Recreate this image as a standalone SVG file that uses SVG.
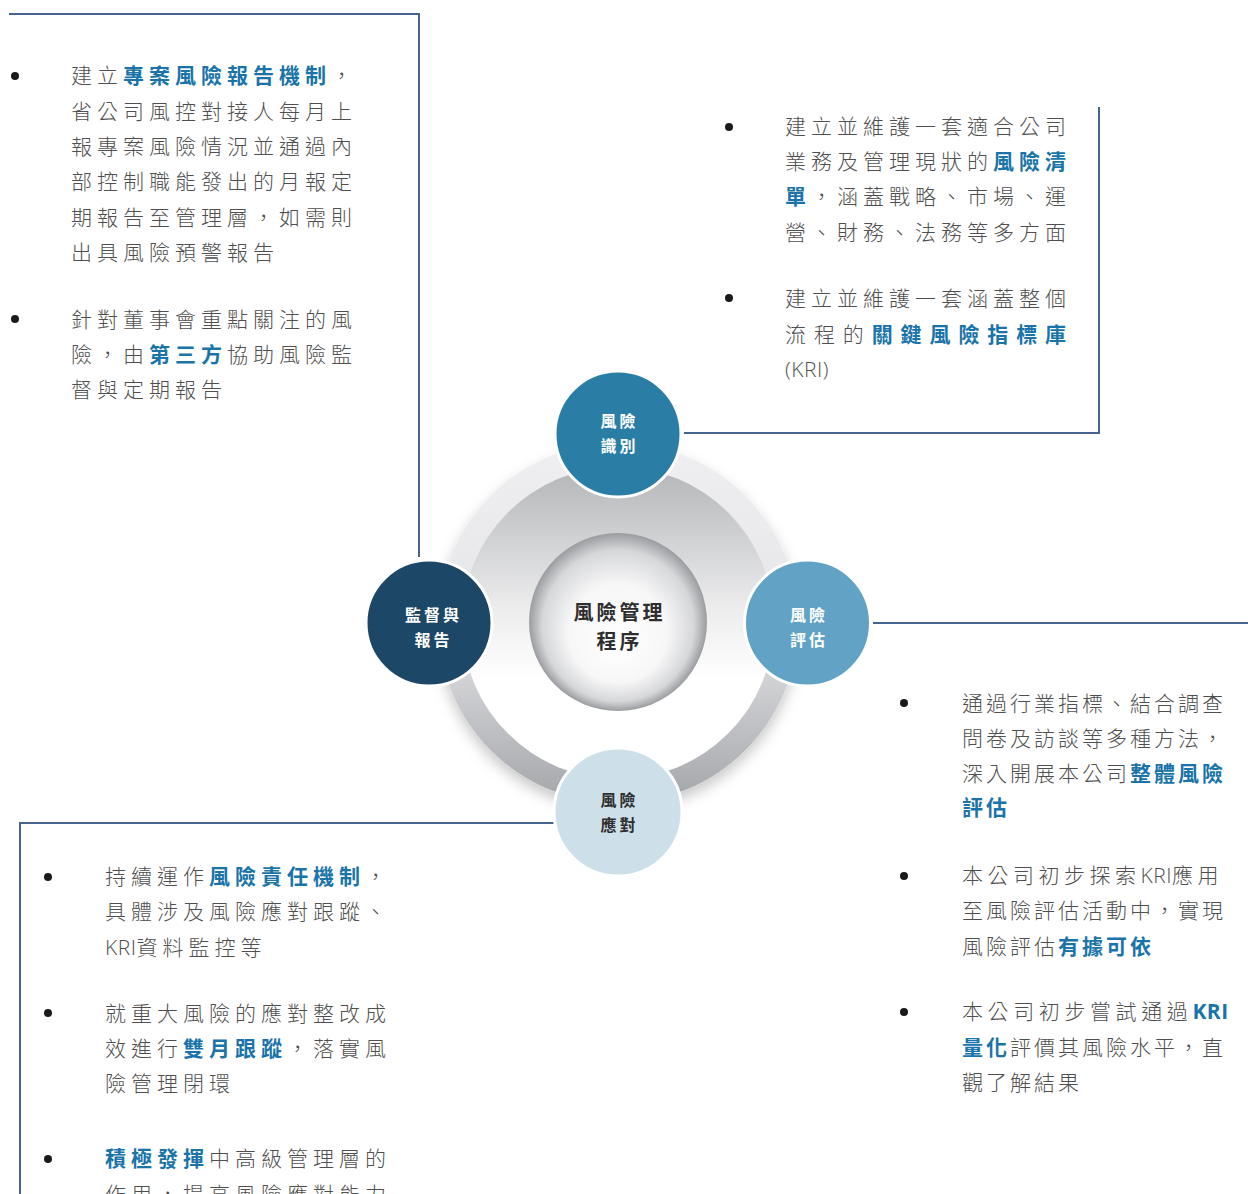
<svg xmlns="http://www.w3.org/2000/svg" width="1248" height="1194" viewBox="0 0 1248 1194">
  <style>
    .body{font-family:"Open Sans","Noto Sans CJK TC",sans-serif;font-size:21px;font-weight:300;fill:#4f4f4f;letter-spacing:5px}
    .r{letter-spacing:3px}
    .hl{fill:#1a74a9;font-weight:700}
    .lat{letter-spacing:0.5px}
    .lab{font-family:"Noto Sans CJK TC",sans-serif;font-size:16px;font-weight:700;letter-spacing:3px;text-anchor:middle}
    .core{font-family:"Noto Sans CJK TC",sans-serif;font-size:20px;font-weight:700;letter-spacing:3px;text-anchor:middle;fill:#2e2e2e}
    .frame{fill:none;stroke:#44648f;stroke-width:2}
    .dot{fill:#1a1a1a}
    .node{stroke:#ffffff;stroke-width:3}
  </style>
  <defs>
    <linearGradient id="ringOuter" x1="0" y1="0" x2="0" y2="1">
      <stop offset="0" stop-color="#efeff1"/>
      <stop offset="0.5" stop-color="#e6e6e8"/>
      <stop offset="1" stop-color="#a3a5a9"/>
    </linearGradient>
    <linearGradient id="ringInner" x1="0" y1="0" x2="0" y2="1">
      <stop offset="0" stop-color="#b3b5b8"/>
      <stop offset="0.45" stop-color="#ececed"/>
      <stop offset="0.68" stop-color="#ffffff"/>
      <stop offset="1" stop-color="#ffffff"/>
    </linearGradient>
    <radialGradient id="coreFill" cx="0.5" cy="0.5" r="0.5" fx="0.5" fy="0.64">
      <stop offset="0" stop-color="#ffffff"/>
      <stop offset="0.55" stop-color="#f7f7f8"/>
      <stop offset="0.85" stop-color="#d6d7d9"/>
      <stop offset="1" stop-color="#9a9ca0"/>
    </radialGradient>
    <filter id="soft" x="-20%" y="-20%" width="140%" height="145%">
      <feDropShadow dx="0" dy="7" stdDeviation="7" flood-color="#000" flood-opacity="0.22"/>
    </filter>
  </defs>

  <rect width="1248" height="1194" fill="#ffffff"/>

  <!-- cycle ring -->
  <g id="ring">
    <circle cx="618" cy="623" r="180" fill="url(#ringOuter)" filter="url(#soft)"/>
    <circle cx="618" cy="623" r="156" fill="url(#ringInner)"/>
  </g>

  <!-- connectors -->
  <g id="connectors">
    <path class="frame" d="M9,14 H419 V557"/>
    <path class="frame" d="M684,433 H1099 V107"/>
    <path class="frame" d="M873,623 H1248"/>
    <path class="frame" d="M555,823 H20 V1194"/>
  </g>

  <g id="node-core">
    <circle cx="618" cy="622" r="89" fill="url(#coreFill)"/>
    <text class="core" x="619.5" y="620">風險管理</text>
    <text class="core" x="619.5" y="649">程序</text>
  </g>

  <g id="node-identify">
    <circle class="node" cx="618" cy="434" r="63" fill="#2a7ea6"/>
    <text class="lab" x="619.5" y="427" fill="#ffffff">風險</text>
    <text class="lab" x="619.5" y="452" fill="#ffffff">識別</text>
  </g>

  <g id="node-monitor">
    <circle class="node" cx="429" cy="623" r="63" fill="#1d4767"/>
    <text class="lab" x="433.5" y="621" fill="#ffffff">監督與</text>
    <text class="lab" x="433.5" y="646" fill="#ffffff">報告</text>
  </g>

  <g id="node-assess">
    <circle class="node" cx="807.5" cy="623" r="63" fill="#62a3c5"/>
    <text class="lab" x="809" y="621" fill="#ffffff">風險</text>
    <text class="lab" x="809" y="646" fill="#ffffff">評估</text>
  </g>

  <g id="node-respond">
    <circle class="node" cx="618" cy="812" r="64" fill="#cde0ea"/>
    <text class="lab" x="619.5" y="806" fill="#2e2e2e">風險</text>
    <text class="lab" x="619.5" y="831" fill="#2e2e2e">應對</text>
  </g>

  <!-- notes: monitoring and reporting -->
  <g id="notes-monitor">
    <circle class="dot" cx="15" cy="76" r="4"/>
    <text class="body" x="71" y="83">建立<tspan class="hl">專案風險報告機制</tspan>，</text>
    <text class="body" x="71" y="119">省公司風控對接人每月上</text>
    <text class="body" x="71" y="154">報專案風險情況並通過內</text>
    <text class="body" x="71" y="189">部控制職能發出的月報定</text>
    <text class="body" x="71" y="225">期報告至管理層，如需則</text>
    <text class="body" x="71" y="260">出具風險預警報告</text>
    <circle class="dot" cx="15" cy="319" r="4"/>
    <text class="body" x="71" y="327">針對董事會重點關注的風</text>
    <text class="body" x="71" y="362">險，由<tspan class="hl">第三方</tspan>協助風險監</text>
    <text class="body" x="71" y="397">督與定期報告</text>
  </g>

  <!-- notes: identification -->
  <g id="notes-identify">
    <circle class="dot" cx="729" cy="127" r="4"/>
    <text class="body" x="785" y="134">建立並維護一套適合公司</text>
    <text class="body" x="785" y="169">業務及管理現狀的<tspan class="hl">風險清</tspan></text>
    <text class="body" x="785" y="204"><tspan class="hl">單</tspan>，涵蓋戰略、市場、運</text>
    <text class="body" x="785" y="240">營、財務、法務等多方面</text>
    <circle class="dot" cx="729" cy="298" r="4"/>
    <text class="body" x="785" y="306">建立並維護一套涵蓋整個</text>
    <text class="body" x="785" y="342" style="letter-spacing:7.9px">流程的<tspan class="hl">關鍵風險指標庫</tspan></text>
    <text class="body" x="785" y="377" style="letter-spacing:0.5px">(KRI)</text>
  </g>

  <!-- notes: assessment -->
  <g id="notes-assess">
    <circle class="dot" cx="904" cy="703" r="4"/>
    <text class="body r" x="962" y="711">通過行業指標、結合調查</text>
    <text class="body r" x="962" y="746">問卷及訪談等多種方法，</text>
    <text class="body r" x="962" y="781">深入開展本公司<tspan class="hl">整體風險</tspan></text>
    <text class="body r" x="962" y="815"><tspan class="hl">評估</tspan></text>
    <circle class="dot" cx="904" cy="876" r="4"/>
    <text class="body" x="962" y="883" style="letter-spacing:4.5px">本公司初步探索<tspan class="lat">KRI</tspan>應用</text>
    <text class="body r" x="962" y="918">至風險評估活動中，實現</text>
    <text class="body r" x="962" y="954">風險評估<tspan class="hl">有據可依</tspan></text>
    <circle class="dot" cx="904" cy="1012" r="4"/>
    <text class="body" x="962" y="1019" style="letter-spacing:4.6px">本公司初步嘗試通過<tspan class="hl lat">KRI</tspan></text>
    <text class="body r" x="962" y="1055"><tspan class="hl">量化</tspan>評價其風險水平，直</text>
    <text class="body r" x="962" y="1090">觀了解結果</text>
  </g>

  <!-- notes: response -->
  <g id="notes-respond">
    <circle class="dot" cx="48" cy="877" r="4"/>
    <text class="body" x="105" y="884">持續運作<tspan class="hl">風險責任機制</tspan>，</text>
    <text class="body" x="105" y="919">具體涉及風險應對跟蹤、</text>
    <text class="body" x="105" y="955"><tspan class="lat">KRI</tspan>資料監控等</text>
    <circle class="dot" cx="48" cy="1013" r="4"/>
    <text class="body" x="105" y="1021">就重大風險的應對整改成</text>
    <text class="body" x="105" y="1056">效進行<tspan class="hl">雙月跟蹤</tspan>，落實風</text>
    <text class="body" x="105" y="1091">險管理閉環</text>
    <circle class="dot" cx="48" cy="1159" r="4"/>
    <text class="body" x="105" y="1166"><tspan class="hl">積極發揮</tspan>中高級管理層的</text>
    <text class="body" x="105" y="1202">作用，提高風險應對能力</text>
  </g>
</svg>
